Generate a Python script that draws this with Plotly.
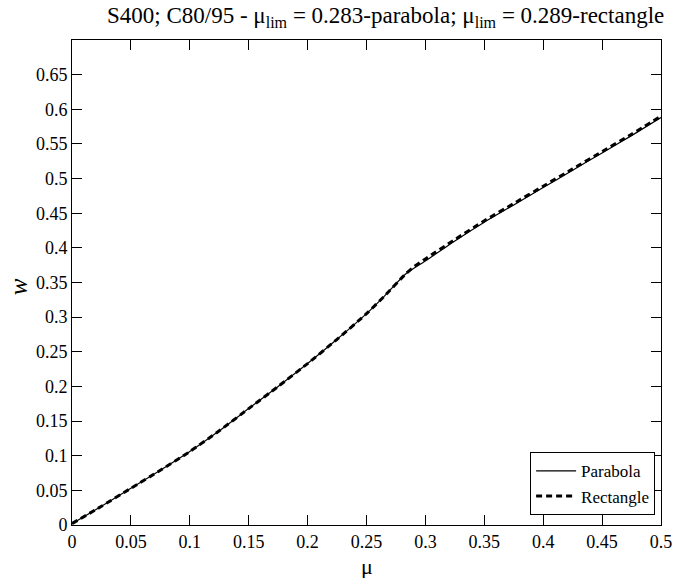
import plotly.graph_objects as go

mu_parabola = [0, 0.025, 0.05, 0.075, 0.1, 0.125, 0.15, 0.175, 0.2, 0.225, 0.25, 0.265,
               0.283, 0.3, 0.325, 0.35, 0.375, 0.4, 0.425, 0.45, 0.475, 0.5]
w_parabola = [0.002, 0.027, 0.053, 0.079, 0.106, 0.136, 0.168, 0.200, 0.233, 0.268, 0.305, 0.330,
              0.362, 0.381, 0.410, 0.437, 0.462, 0.487, 0.512, 0.537, 0.562, 0.588]

mu_rectangle = [0, 0.025, 0.05, 0.075, 0.1, 0.125, 0.15, 0.175, 0.2, 0.225, 0.25, 0.265,
                0.283, 0.289, 0.3, 0.325, 0.35, 0.375, 0.4, 0.425, 0.45, 0.475, 0.5]
w_rectangle = [0.002, 0.027, 0.053, 0.079, 0.106, 0.136, 0.168, 0.200, 0.233, 0.268, 0.305, 0.330,
               0.362, 0.371, 0.384, 0.412, 0.439, 0.464, 0.489, 0.514, 0.539, 0.564, 0.590]

x_ticks = [0, 0.05, 0.1, 0.15, 0.2, 0.25, 0.3, 0.35, 0.4, 0.45, 0.5]
x_tick_text = ["0", "0.05", "0.1", "0.15", "0.2", "0.25", "0.3", "0.35", "0.4", "0.45", "0.5"]
y_ticks = [0, 0.05, 0.1, 0.15, 0.2, 0.25, 0.3, 0.35, 0.4, 0.45, 0.5, 0.55, 0.6, 0.65]
y_tick_text = ["0", "0.05", "0.1", "0.15", "0.2", "0.25", "0.3", "0.35", "0.4", "0.45",
               "0.5", "0.55", "0.6", "0.65"]

FONT = "Liberation Serif, Times New Roman, serif"

fig = go.Figure()
fig.add_trace(go.Scatter(x=mu_rectangle, y=w_rectangle, mode="lines", name="Rectangle",
                         line=dict(color="black", width=3, dash="6px,4px", shape="spline",
                                   smoothing=0.6), legendrank=2))
fig.add_trace(go.Scatter(x=mu_parabola, y=w_parabola, mode="lines", name="Parabola",
                         line=dict(color="black", width=1.2, shape="spline", smoothing=0.6),
                         legendrank=1))

axis_common = dict(showline=True, linecolor="black", linewidth=1, mirror="ticks",
                   ticks="inside", ticklen=10, tickcolor="black", tickwidth=1,
                   showgrid=False, zeroline=False,
                   tickfont=dict(family=FONT, size=18, color="black"))

fig.update_xaxes(range=[0, 0.5], tickvals=x_ticks, ticktext=x_tick_text, **axis_common)
fig.update_yaxes(range=[0, 0.7], tickvals=y_ticks, ticktext=y_tick_text, **axis_common)

fig.update_layout(
    width=684, height=578,
    margin=dict(l=72, r=17, t=40, b=53),
    paper_bgcolor="white", plot_bgcolor="white",
    font=dict(family=FONT, color="black"),
    showlegend=True,
    legend=dict(x=0.99, y=0.02, xanchor="right", yanchor="bottom",
                bgcolor="white", bordercolor="black", borderwidth=1,
                font=dict(family=FONT, size=17, color="black"),
                tracegroupgap=0, itemwidth=40),
    annotations=[
        dict(text="S400; C80/95 - μ<sub>lim</sub> = 0.283-parabola; μ<sub>lim</sub> = 0.289-rectangle",
             xref="paper", yref="paper", x=0.533, y=1.0, xanchor="center", yanchor="bottom",
             yshift=7, showarrow=False, font=dict(family=FONT, size=23, color="black")),
        dict(text="μ", xref="paper", yref="paper", x=0.5, y=0, xanchor="center",
             yanchor="top", yshift=-27, showarrow=False,
             font=dict(family=FONT, size=22, color="black")),
        dict(text="<i>w</i>", xref="paper", yref="paper", x=0, y=0.49, xanchor="center",
             yanchor="middle", xshift=-54, textangle=-90, showarrow=False,
             font=dict(family=FONT, size=25, color="black")),
    ],
)

fig.write_html("out.html")
